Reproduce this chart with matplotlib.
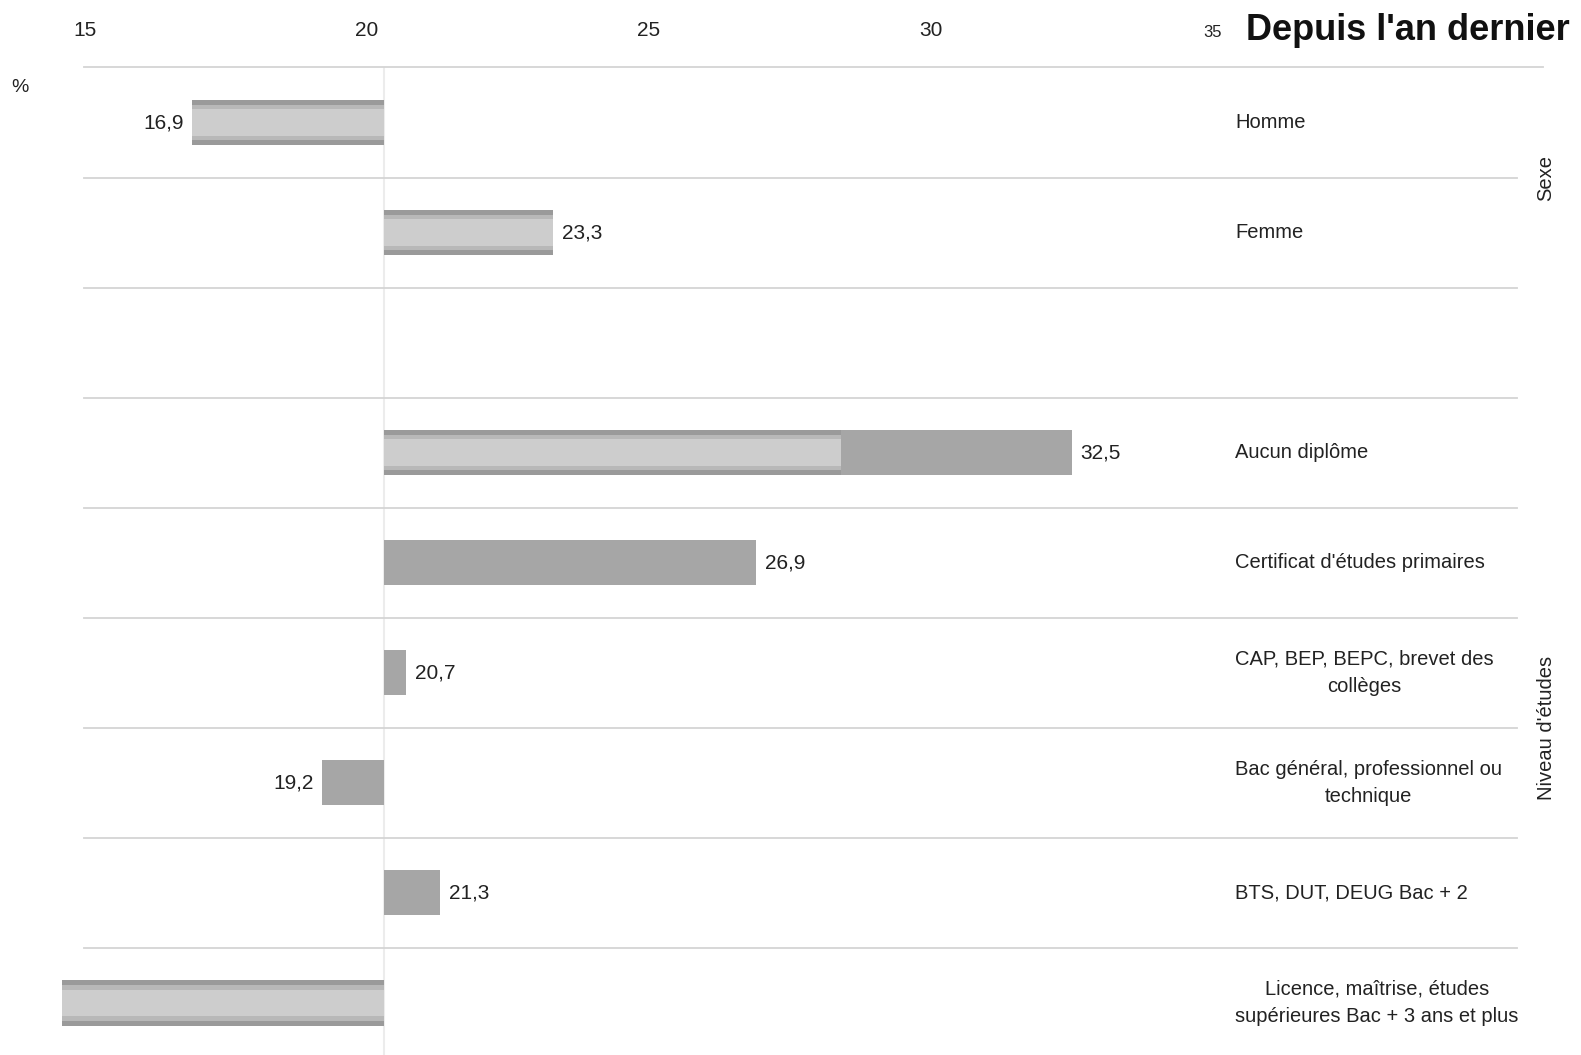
import matplotlib.pyplot as plt
import matplotlib.transforms as mtransforms

# Data (percent), bars start from the overall average
categories = ['Homme', 'Femme', '',
              'Aucun diplôme',
              "Certificat d'études primaires",
              'CAP, BEP, BEPC, brevet des\ncollèges',
              'Bac général, professionnel ou\ntechnique',
              'BTS, DUT, DEUG Bac + 2',
              'Licence, maîtrise, études\nsupérieures Bac + 3 ans et plus']
values = [16.9, 23.3, None, 32.5, 26.9, 20.7, 19.2, 21.3, 14.6]
base = 20.3
# how far the lighter, "textured" fill runs on each bar (None = plain bar)
light_end = [16.9, 23.3, None, 28.4, None, None, None, None, 14.6]
groups = [('Sexe', 0, 1), ("Niveau d'études", 3, 8)]
ticks = [15, 20, 25, 30, 35]

plt.rcParams['font.family'] = ['Liberation Sans', 'DejaVu Sans']

W, H = 1581, 1055
fig = plt.figure(figsize=(W / 100, H / 100), dpi=100)
top_px = 67.5
ax = fig.add_axes([0, 0, 1, 1 - top_px / H])

# x mapping: 20 -> 367 px, 56.4 px per unit
x0 = 20 - 367 / 56.4
x1 = 20 + (W - 367) / 56.4
ax.set_xlim(x0, x1)
row_h = 110.0
ax.set_ylim((H - 123) / row_h, -0.5)

for s in ax.spines.values():
    s.set_visible(False)
ax.set_yticks([])
ax.xaxis.tick_top()
ax.set_xticks(ticks)
ax.set_xticklabels([str(t) for t in ticks])
ax.tick_params(axis='x', length=0, pad=20, labelsize=15, colors='#222222')
ax.get_xticklabels()[-1].set_fontsize(12)

# faint line at the base value
ax.axvline(base, color='#ececec', lw=1.5, zorder=0)

# row separators
fig_y = mtransforms.blended_transform_factory(fig.transFigure, ax.transData)
for i in range(-1, len(categories) - 1):
    xr = 1543 / W if i == -1 else 1517 / W
    ax.plot([84 / W, xr], [i + 0.5, i + 0.5], color='#d4d4d4', lw=1.3,
            transform=fig_y, clip_on=False, zorder=0)

bar_h = 0.41
for i, v in enumerate(values):
    if v is None:
        continue
    ax.barh(i, v - base, left=base, height=bar_h, color='#a6a6a6', zorder=2)
    le = light_end[i]
    if le is not None:
        ax.barh(i, le - base, left=base, height=bar_h, color='#9a9a9a', zorder=3)
        ax.barh(i, le - base, left=base, height=0.32, color='#b8b8b8', zorder=4)
        ax.barh(i, le - base, left=base, height=0.24, color='#cdcdcd', zorder=5)
    if v < ticks[0]:
        continue
    lbl = f'{v:.1f}'.replace('.', ',')
    if v >= base:
        ax.text(v + 0.15, i, lbl, ha='left', va='center', fontsize=15, color='#222222')
    else:
        ax.text(v - 0.15, i, lbl, ha='right', va='center', fontsize=15, color='#222222')

# category labels on the right
for i, c in enumerate(categories):
    if not c:
        continue
    ax.text(1235 / W, i, c, transform=fig_y, ha='left', va='center',
            multialignment='center', fontsize=14.5, linespacing=1.55, color='#222222')

# group labels
for name, a, b in groups:
    ax.text(1546 / W, (a + b) / 2, name, transform=fig_y, rotation=90,
            ha='center', va='center', fontsize=14.5, color='#222222')

fig.text(1246 / W, 1 - 30 / H, "Depuis l'an dernier", ha='left', va='center',
         fontsize=26, fontweight='bold', color='#111111')
fig.text(20 / W, 1 - 88 / H, '%', ha='center', va='center', fontsize=14, color='#222222')

fig.savefig('out.png', dpi=100, facecolor='white')
